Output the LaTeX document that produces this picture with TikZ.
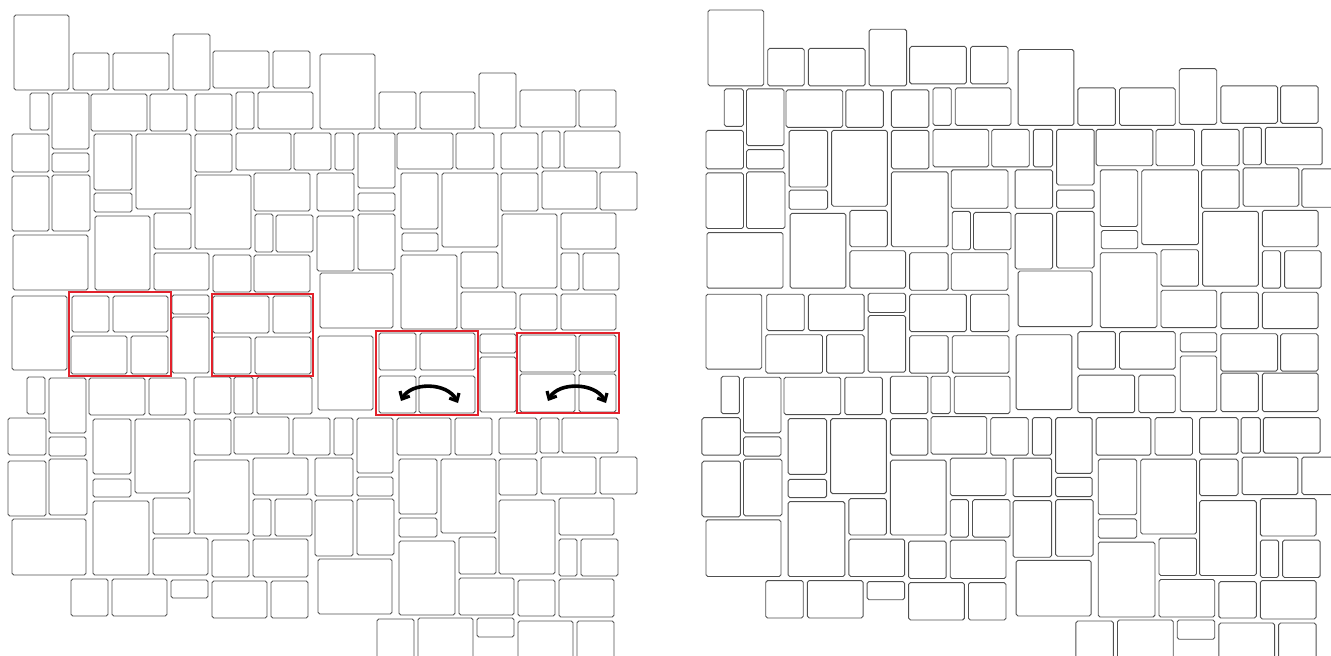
\documentclass[tikz,border=0pt]{standalone}
\usetikzlibrary{arrows.meta}
\definecolor{stonecol}{RGB}{80,80,80}
\definecolor{redbox}{RGB}{226,34,44}
\tikzset{
  stone/.style={draw=stonecol, line width=0.9pt, rounded corners=1.8pt},
  redframe/.style={draw=redbox, line width=1.4pt},
  swaparrow/.style={draw=black, line width=3.6pt, line cap=round, {Straight Barb[length=6pt,width=11pt,line width=3.2pt]}-{Straight Barb[length=6pt,width=11pt,line width=3.2pt]}}
}
\newcommand{\bx}[4]{\draw[stone] (#1,#2) rectangle (#3,#4);}
\newcommand{\commonstones}{%
% row A
\bx{14}{15}{69}{90}\bx{73}{53}{109}{90}\bx{113}{53}{169}{90}\bx{173}{34}{210}{90}
\bx{213}{51}{269}{88}\bx{273}{51}{310}{88}\bx{320}{54}{375}{129}\bx{379}{92}{416}{129}
\bx{420}{92}{475}{129}\bx{479}{73}{516}{128}\bx{520}{90}{576}{127}\bx{579}{90}{616}{127}
% row B
\bx{30}{93}{49}{130}\bx{52}{93}{89}{149}\bx{91}{94}{147}{131}\bx{150}{94}{187}{131}
\bx{195}{94}{232}{131}\bx{236}{92}{254}{129}\bx{258}{92}{313}{129}
% row C
\bx{12}{134}{49}{172}\bx{52}{153}{89}{172}\bx{94}{134}{132}{190}\bx{136}{134}{191}{209}
\bx{195}{134}{232}{172}\bx{236}{133}{291}{170}\bx{294}{133}{331}{170}\bx{335}{133}{354}{170}
\bx{358}{133}{395}{188}\bx{397}{133}{453}{169}\bx{456}{133}{494}{169}\bx{501}{133}{538}{169}
\bx{542}{131}{560}{168}\bx{564}{131}{620}{168}
% row D
\bx{12}{176}{49}{231}\bx{52}{175}{90}{231}\bx{94}{193}{132}{212}\bx{195}{175}{251}{249}
\bx{254}{173}{310}{211}\bx{317}{173}{354}{211}\bx{358}{193}{395}{211}\bx{401}{173}{438}{229}
\bx{442}{173}{498}{247}\bx{501}{173}{538}{211}\bx{542}{171}{597}{209}\bx{600}{172}{637}{210}
% row E
\bx{95}{216}{150}{290}\bx{154}{213}{191}{249}\bx{255}{214}{273}{252}\bx{276}{215}{313}{252}
\bx{317}{216}{354}{271}\bx{358}{214}{395}{270}\bx{402}{233}{438}{251}\bx{502}{214}{557}{288}
\bx{561}{213}{616}{249}
% row F
\bx{13}{235}{88}{290}\bx{154}{253}{209}{290}\bx{213}{255}{251}{292}\bx{254}{255}{310}{292}
\bx{320}{273}{393}{328}\bx{401}{255}{457}{329}\bx{461}{252}{498}{288}\bx{561}{253}{579}{290}
\bx{583}{253}{619}{290}
% row G
\bx{461}{292}{516}{329}\bx{520}{294}{557}{330}\bx{561}{294}{616}{330}\bx{12}{296}{67}{370}
\bx{72}{296}{109}{332}\bx{113}{296}{168}{332}\bx{71}{336}{127}{374}\bx{131}{336}{168}{374}
\bx{172}{295}{209}{314}\bx{172}{317}{209}{373}
\bx{213}{296}{269}{333}\bx{273}{296}{311}{333}\bx{213}{337}{251}{374}\bx{255}{337}{311}{374}
\bx{318}{336}{373}{410}\bx{379}{333}{416}{370}\bx{420}{333}{475}{370}
\bx{480}{334}{516}{353}\bx{480}{357}{516}{412}\bx{520}{335}{576}{372}\bx{579}{335}{616}{372}
% row H
\bx{27}{377}{45}{414}\bx{49}{378}{86}{433}\bx{89}{378}{145}{415}\bx{149}{378}{186}{415}
\bx{194}{377}{231}{414}\bx{234}{377}{253}{414}\bx{257}{377}{312}{414}
% row I
\bx{8}{418}{46}{455}\bx{49}{437}{86}{456}\bx{93}{419}{131}{474}\bx{135}{419}{190}{493}
\bx{194}{419}{231}{455}\bx{234}{417}{289}{454}\bx{293}{418}{330}{455}\bx{334}{418}{353}{455}
\bx{357}{418}{393}{473}\bx{397}{418}{451}{455}\bx{455}{418}{492}{455}\bx{499}{418}{537}{454}
\bx{540}{418}{559}{453}\bx{562}{418}{618}{453}
% row J
\bx{8}{461}{46}{516}\bx{49}{459}{87}{515}\bx{93}{479}{131}{497}\bx{194}{460}{249}{534}
\bx{253}{458}{308}{495}\bx{315}{458}{353}{496}\bx{357}{477}{393}{496}\bx{399}{459}{437}{514}
\bx{441}{459}{496}{533}\bx{499}{459}{537}{495}\bx{541}{457}{596}{494}\bx{600}{457}{637}{494}
% row K
\bx{12}{519}{86}{575}\bx{93}{501}{149}{575}\bx{153}{498}{190}{534}\bx{253}{499}{271}{536}
\bx{275}{499}{312}{536}\bx{315}{500}{353}{556}\bx{357}{499}{394}{555}\bx{399}{518}{437}{537}
\bx{499}{500}{555}{574}\bx{559}{498}{614}{535}
% row L
\bx{153}{538}{208}{575}\bx{212}{540}{249}{577}\bx{253}{539}{308}{577}\bx{318}{559}{392}{614}
\bx{399}{541}{455}{615}\bx{459}{537}{496}{574}\bx{559}{539}{577}{576}\bx{581}{539}{618}{576}
% row M
\bx{71}{579}{108}{616}\bx{112}{579}{167}{616}\bx{171}{580}{208}{598}\bx{212}{581}{267}{618}
\bx{271}{581}{308}{618}\bx{459}{578}{514}{615}\bx{518}{580}{555}{616}\bx{559}{579}{614}{617}
% row N
\bx{377}{619}{414}{670}\bx{418}{618}{473}{670}\bx{477}{618}{514}{637}\bx{518}{621}{573}{670}
\bx{577}{621}{614}{670}
}
\begin{document}
\begin{tikzpicture}[x=1pt,y=-1pt]
\useasboundingbox (0,0) rectangle (1331,656);
\fill[white] (0,0) rectangle (1331,656);
\clip (0,0) rectangle (1331,656);
% ---------- left panel ----------
\commonstones
% bottom rows of the two swap modules (before swap)
\bx{379}{376}{416}{413}\bx{419}{376}{475}{413}
\bx{520}{374}{575}{412}\bx{579}{374}{616}{412}
% red frames
\draw[redframe] (69,292) rectangle (171,376);
\draw[redframe] (212,294) rectangle (313,376);
\draw[redframe] (376,331) rectangle (478,415);
\draw[redframe] (517,333) rectangle (619,413);
% swap arrows
\coordinate (a3l) at (401,401);
\coordinate (a3r) at (458,403);
\coordinate (a4l) at (548,401);
\coordinate (a4r) at (606,403);
\draw[swaparrow] (a3l) .. controls (411,382) and (447,382) .. (a3r);
\draw[swaparrow] (a4l) .. controls (558,382) and (595,382) .. (a4r);
% ---------- right panel ----------
\begin{scope}[shift={(693.8,-5.17)}, xscale=1.0135, yscale=1.0116]
\commonstones
% bottom rows after swap
\bx{379}{376}{435}{413}\bx{439}{376}{475}{413}
\bx{520}{374}{557}{412}\bx{561}{374}{616}{412}
\end{scope}
\end{tikzpicture}
\end{document}
